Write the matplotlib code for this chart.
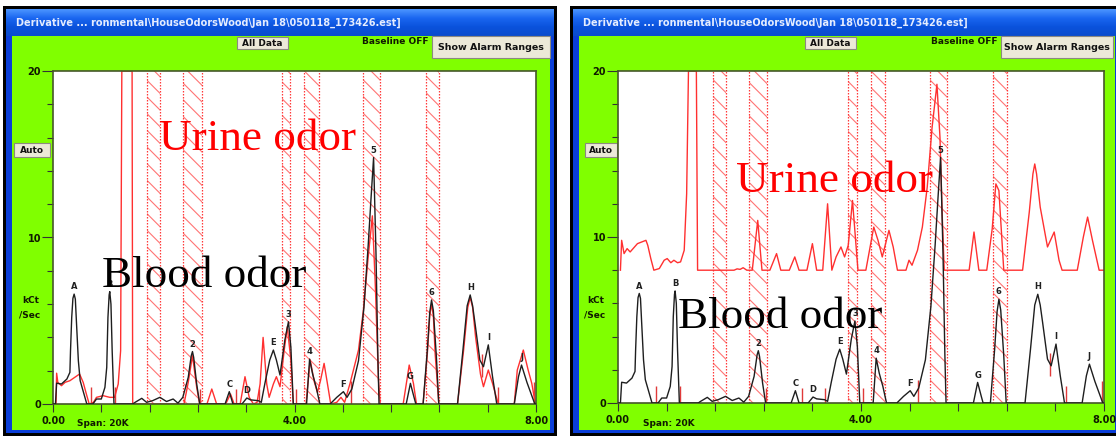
import numpy as np
import matplotlib
matplotlib.use('Agg')
import matplotlib.pyplot as plt
from matplotlib.patches import Rectangle
from matplotlib.colors import LinearSegmentedColormap

plt.rcParams['hatch.linewidth'] = 0.8

# ---------------- data ----------------
# blood odor trace (black), same run in both panels
black_t = [0.00, 0.04, 0.06, 0.14, 0.23, 0.28, 0.29, 0.31, 0.33, 0.35, 0.37, 0.39, 0.42, 0.45, 0.56,
           0.66, 0.72, 0.80, 0.86, 0.89, 0.91, 0.93, 0.94, 0.96, 0.98, 1.01, 1.32, 1.36, 1.47, 1.55,
           1.65, 1.77, 1.88, 1.99, 2.07, 2.15, 2.24, 2.29, 2.31, 2.33, 2.38, 2.43, 2.85, 2.92, 2.98,
           3.13, 3.21, 3.27, 3.40, 3.45, 3.51, 3.59, 3.65, 3.70, 3.76, 3.84, 3.90, 3.94, 3.98, 4.20,
           4.25, 4.30, 4.36, 4.42, 4.59, 4.70, 4.81, 4.87, 4.95, 5.06, 5.15, 5.22, 5.27, 5.31, 5.35,
           5.38, 5.40, 5.85, 5.92, 5.98, 6.01, 6.13, 6.20, 6.24, 6.27, 6.30, 6.35, 6.39, 6.70, 6.79,
           6.86, 6.91, 6.95, 6.99, 7.07, 7.13, 7.21, 7.28, 7.35, 7.64, 7.71, 7.76, 7.85, 7.93, 7.98,
           8.00]
black_v = [0.0, 0.0, 1.25, 1.2, 1.5, 1.9, 3.2, 5.2, 6.35, 6.6, 6.3, 4.8, 2.6, 1.4, 0.0,
           0.0, 0.3, 0.3, 1.0, 2.2, 5.2, 6.55, 6.75, 6.0, 3.2, 0.0, 0.0, 0.1, 0.34, 0.1,
           0.2, 0.4, 0.15, 0.3, 0.05, 0.4, 1.6, 2.9, 3.15, 2.8, 1.2, 0.0, 0.0, 0.74, 0.0,
           0.0, 0.36, 0.25, 0.2, 0.1, 1.24, 2.64, 3.24, 2.64, 1.74, 3.84, 4.94, 3.4, 0.0, 0.0,
           2.7, 1.8, 1.0, 0.0, 0.0, 0.4, 0.74, 0.4, 0.9, 2.6, 5.8, 9.5, 12.5, 14.8, 9.0,
           3.0, 0.0, 0.0, 1.24, 0.4, 0.0, 0.0, 3.24, 5.5, 6.25, 5.6, 2.84, 0.0, 0.0, 3.24,
           5.9, 6.55, 5.9, 4.84, 2.64, 2.24, 3.55, 1.64, 0.0, 0.0, 1.64, 2.34, 1.3, 0.5, 0.0,
           0.0]

# urine odor trace (red), left panel
red_left_t = [0.05, 0.06, 0.08, 0.14, 0.20, 0.28, 0.36, 0.44, 0.50, 0.56, 0.60, 0.67, 0.72, 0.83, 0.94,
              1.02, 1.08, 1.12, 1.14, 1.31, 1.32, 2.17, 2.24, 2.31, 2.38, 2.43, 2.55, 2.63, 2.71, 2.86,
              2.94, 3.00, 3.10, 3.18, 3.25, 3.32, 3.38, 3.43, 3.48, 3.54, 3.58, 3.65, 3.70, 3.76, 3.83,
              3.88, 3.94, 3.98, 4.19, 4.26, 4.33, 4.38, 4.43, 4.49, 4.56, 4.60, 4.70, 4.77, 4.83, 4.92,
              5.06, 5.14, 5.22, 5.29, 5.34, 5.39, 5.42, 5.80, 5.90, 5.97, 6.02, 6.13, 6.20, 6.24, 6.27,
              6.30, 6.33, 6.39, 6.70, 6.80, 6.87, 6.91, 6.95, 7.00, 7.08, 7.13, 7.21, 7.28, 7.34, 7.38,
              7.64, 7.69, 7.79, 7.87, 7.93, 7.99]
red_left_v = [0.0, 1.85, 1.3, 1.1, 1.3, 1.4, 1.6, 1.8, 1.3, 0.5, 0.0, 0.1, 0.4, 0.5, 0.4,
              0.4, 1.2, 3.2, 20.0, 20.0, 0.0, 0.0, 1.3, 2.9, 1.0, 0.0, 0.0, 0.9, 0.0, 0.0,
              0.6, 0.0, 0.0, 1.64, 0.4, 0.0, 0.1, 1.2, 4.0, 1.2, 0.4, 1.2, 1.64, 1.04, 3.24,
              4.64, 2.64, 0.0, 0.0, 2.64, 1.3, 0.7, 1.4, 2.44, 0.9, 0.0, 0.1, 0.4, 0.1, 1.24,
              3.24, 5.6, 8.8, 11.3, 7.0, 1.5, 0.0, 0.0, 2.34, 1.24, 0.0, 0.0, 3.0, 5.3, 6.0,
              5.3, 3.0, 0.0, 0.0, 3.2, 5.8, 6.4, 5.8, 4.0, 1.8, 1.04, 2.04, 1.24, 0.44, 0.0,
              0.0, 2.04, 3.24, 2.04, 1.24, 0.0]

# urine odor trace (red), right panel (raised baseline)
red_right_t = [0.04, 0.06, 0.10, 0.15, 0.20, 0.32, 0.46, 0.49, 0.54, 0.59, 0.68, 0.76, 0.81, 0.87, 0.92,
               0.98, 1.03, 1.09, 1.13, 1.16, 1.29, 1.31, 1.91, 1.96, 2.01, 2.06, 2.12, 2.21, 2.30, 2.37,
               2.50, 2.61, 2.68, 2.82, 2.91, 2.98, 3.11, 3.20, 3.27, 3.37, 3.45, 3.52, 3.59, 3.67, 3.73,
               3.79, 3.86, 3.95, 4.08, 4.21, 4.28, 4.35, 4.46, 4.53, 4.60, 4.74, 4.79, 4.84, 4.93, 5.01,
               5.09, 5.17, 5.25, 5.30, 5.34, 5.37, 5.78, 5.86, 5.94, 6.07, 6.16, 6.22, 6.27, 6.35, 6.66,
               6.77, 6.83, 6.86, 6.89, 6.95, 7.07, 7.18, 7.26, 7.31, 7.56, 7.66, 7.73, 7.81, 7.92, 8.00]
red_right_v = [8.0, 9.8, 9.0, 9.3, 9.1, 9.6, 9.8, 9.5, 8.7, 8.0, 8.1, 8.6, 8.7, 8.45, 8.6,
               8.45, 8.5, 9.2, 12.6, 20.0, 20.0, 8.0, 8.0, 8.08, 8.05, 8.15, 8.0, 8.0, 11.0, 8.0,
               8.0, 9.0, 8.0, 8.0, 8.8, 8.0, 8.0, 9.6, 8.0, 8.0, 12.0, 8.0, 8.8, 9.4, 8.8,
               9.5, 12.2, 8.0, 8.0, 10.6, 9.8, 8.8, 10.4, 9.4, 8.0, 8.0, 8.6, 8.3, 9.2, 10.6,
               13.0, 16.6, 19.2, 16.0, 11.0, 8.0, 8.0, 10.3, 8.0, 8.0, 10.5, 13.2, 12.8, 8.0, 8.0,
               11.5, 13.8, 14.4, 13.8, 11.8, 9.4, 10.3, 8.6, 8.0, 8.0, 10.0, 11.2, 9.8, 8.0, 8.0]

# peak labels
peak_names = ['A', 'B', '2', 'C', 'D', 'E', '3', '4', 'F', '5', 'G', '6', 'H', 'I', 'J']
peak_t = [0.35, 0.94, 2.31, 2.92, 3.21, 3.65, 3.90, 4.25, 4.81, 5.31, 5.92, 6.27, 6.91, 7.21, 7.76]
peak_v = [6.6, 6.75, 3.15, 0.74, 0.36, 3.24, 4.94, 2.7, 0.74, 14.8, 1.24, 6.25, 6.55, 3.55, 2.34]

# alarm ranges
band_lo = [1.56, 2.16, 3.79, 4.16, 5.13, 6.18]
band_hi = [1.77, 2.46, 3.93, 4.40, 5.42, 6.40]

# peak end markers (short red ticks)
mark_t = [0.63, 1.02, 2.44, 3.03, 3.41, 4.03, 4.94, 7.11, 7.37, 7.97]
mark_lo = [0.0, 0.0, 0.0, 0.0, 0.0, 0.0, 0.0, 1.6, 0.0, 0.0]
mark_hi = [1.0, 1.0, 0.9, 0.9, 0.9, 0.9, 1.4, 3.0, 1.0, 1.3]

x_tick_labels = ['0.00', '', '', '', '', '4.00', '', '', '', '', '8.00']
y_tick_labels = ['0', '10', '20']
title_text = r'Derivative ... ronmental\HouseOdorsWood\Jan 18\050118_173426.est]'

# ---------------- figure ----------------
W, H = 1116, 436
fig = plt.figure(figsize=(W / 100, H / 100), dpi=100)
fig.patch.set_facecolor('white')

chrome = fig.add_axes([0, 0, 1, 1])
chrome.axis('off')

UI = 'DejaVu Sans'
GREEN = '#80ff00'
BTN = '#ece9d8'
TXT = '#101a00'


def rect(x0, y0, x1, y1, color, z=1, ec='none', lw=0):
    chrome.add_patch(Rectangle((x0, y0), x1 - x0, y1 - y0, facecolor=color,
                               edgecolor=ec, linewidth=lw, zorder=z))


def button(x0, y0, x1, y1, label, fs=6.5):
    rect(x0, y0, x1, y1, BTN, z=5, ec='#8c8a80', lw=0.8)
    chrome.text((x0 + x1) / 2, (y0 + y1) / 2 + 0.5, label, ha='center', va='center',
                fontsize=fs, fontweight='bold', family=UI, color='#111111', zorder=6)


grad_cmap = LinearSegmentedColormap.from_list('xp', ['#4a94ff', '#1a66f0', '#0a52dc', '#0b4ccd'])
grad = np.linspace(0, 1, 30).reshape(-1, 1)


def window(x0, x1, btn_all, baseline_x, alarm_btn, auto_btn, kct_x, span_x):
    rect(x0, 6, x1, 436, '#000000', z=1)
    rect(x0 + 3, 9, x1 - 3, 433, '#0a3ed8', z=2)
    chrome.imshow(grad, extent=(x0 + 3, x1 - 3, 36, 9), aspect='auto', cmap=grad_cmap, zorder=3)
    rect(x0 + 9, 36, x1 - 7, 430, GREEN, z=3)
    chrome.text(x0 + 13, 23, title_text, ha='left', va='center', fontsize=7.0,
                fontweight='bold', family=UI, color='#e4ecff', zorder=6)
    button(btn_all[0], 37, btn_all[1], 49, 'All Data')
    chrome.text(baseline_x, 42, 'Baseline OFF', ha='left', va='center', fontsize=6.5,
                fontweight='bold', family=UI, color=TXT, zorder=6)
    button(alarm_btn[0], 36, alarm_btn[1], 58, 'Show Alarm Ranges', fs=6.8)
    button(auto_btn[0], 143, auto_btn[1], 157, 'Auto')
    chrome.text(kct_x, 300, 'kCt', ha='center', va='center', fontsize=6.5,
                fontweight='bold', family=UI, color=TXT, zorder=6)
    chrome.text(kct_x - 1, 315, '/Sec', ha='center', va='center', fontsize=6.5,
                fontweight='bold', family=UI, color=TXT, zorder=6)
    chrome.text(span_x, 423, 'Span: 20K', ha='left', va='center', fontsize=6.5,
                fontweight='bold', family=UI, color=TXT, zorder=6)


window(3, 557, (237, 288), 362, (432, 550), (14, 50), 31, 77)
window(570, 1122, (805, 856), 931, (1001, 1113), (585, 617), 596, 643)
chrome.set_xlim(0, W)
chrome.set_ylim(H, 0)


def panel(px0, px1, py0, py1, red_t, red_v):
    ax = fig.add_axes([px0 / W, 1 - py1 / H, (px1 - px0) / W, (py1 - py0) / H])
    ax.set_facecolor('white')
    ax.set_xlim(0, 8)
    ax.set_ylim(0, 20)
    for lo, hi in zip(band_lo, band_hi):
        ax.add_patch(Rectangle((lo, 0), hi - lo, 20, fill=False, hatch='\\\\',
                               edgecolor='#ff7474', linewidth=0, zorder=1))
        for xx in (lo, hi):
            ax.axvline(xx, color='#ff3a3a', linestyle=(0, (1.2, 1.2)), linewidth=0.9, zorder=1.5)
    ax.vlines(mark_t, mark_lo, mark_hi, color='#e03a3a', linewidth=1.0, zorder=2)
    ax.plot(red_t, red_v, color='#ff3030', linewidth=1.0, zorder=2.5)
    ax.plot(black_t, black_v, color='#1e1e1e', linewidth=1.0, zorder=3)
    for name, t, v in zip(peak_names, peak_t, peak_v):
        ax.annotate(name, (t, v), xytext=(0, 2), textcoords='offset points', ha='center',
                    va='bottom', fontsize=6, fontweight='bold', family=UI, color='#202020', zorder=4)
    ax.set_xticks(np.linspace(0, 8, 11))
    ax.set_xticklabels(x_tick_labels)
    ax.set_yticks([0, 10, 20])
    ax.set_yticklabels(y_tick_labels)
    ax.set_yticks(np.arange(0, 21, 2), minor=True)
    ax.tick_params(axis='x', direction='out', length=6, width=0.8, color='#333333', pad=2.5,
                   labelsize=7, labelcolor=TXT)
    ax.tick_params(axis='y', which='major', direction='out', length=8, width=0.8,
                   color='#333333', pad=0.5, labelsize=7, labelcolor=TXT)
    ax.tick_params(axis='y', which='minor', direction='out', length=4, width=0.8, color='#333333')
    for lbl in ax.get_xticklabels() + ax.get_yticklabels():
        lbl.set_fontweight('bold')
        lbl.set_family(UI)
    for sp in ax.spines.values():
        sp.set_color('#46572a')
        sp.set_linewidth(1.2)
    return ax


panel(53, 536, 71, 404, red_left_t, red_left_v)
panel(618, 1104, 71, 403, red_right_t, red_right_v)


def big_text(x, y, s, color):
    fig.text(x / W, 1 - y / H, s, ha='left', va='baseline', fontsize=32.5,
             family='Liberation Serif', color=color, zorder=10)


big_text(159, 150, 'Urine odor', '#ff0000')
big_text(102, 287, 'Blood odor', '#000000')
big_text(736, 192, 'Urine odor', '#ff0000')
big_text(678, 328, 'Blood odor', '#000000')

fig.savefig('out.png', dpi=100, facecolor='white')
